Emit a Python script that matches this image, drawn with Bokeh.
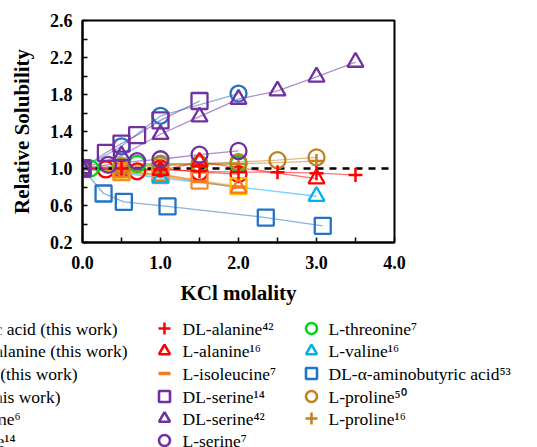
from bokeh.plotting import figure
from bokeh.models import Range1d, FixedTicker, PrintfTickFormatter
from bokeh.layouts import column
from bokeh.core.properties import value
from bokeh.embed import file_html
from bokeh.resources import INLINE

FONT = "Liberation Serif"

# ---------------- data ----------------
ref_x = [0.0, 4.0]
ref_y = [1.0, 1.0]

# first legend column (cut off at the left edge of the picture)
glu_x = [0.0, 0.5, 1.0, 2.0]
glu_y = [1.00, 1.24, 1.57, 1.81]
phe_x = [0.0, 0.3, 0.5, 0.7, 1.0, 1.5, 2.0]
phe_y = [1.00, 0.99, 0.99, 0.97, 1.00, 0.96, 0.94]
his_x = [0.0, 0.5, 1.0, 2.0]
his_y = [1.00, 1.03, 1.05, 1.06]
gly_x = [0.0, 0.5, 1.0, 2.0]
gly_y = [1.00, 0.97, 0.94, 0.81]
asn_x = [0.0, 0.5, 1.0, 2.0]
asn_y = [1.00, 0.96, 0.92, 0.79]
gln_x = [0.0, 0.5, 1.0, 1.5]
gln_y = [1.00, 0.96, 0.93, 0.87]

# second legend column
dlala42_x = [0.0, 0.5, 1.0, 1.5, 2.0, 2.5, 3.0, 3.5]
dlala42_y = [1.00, 1.00, 0.99, 0.97, 0.96, 0.96, 0.95, 0.93]
lala16_x = [0.0, 1.0, 1.5, 3.0]
lala16_y = [1.00, 0.98, 1.07, 0.89]
ile7_x = [0.0, 0.5, 1.0, 1.5, 2.0]
ile7_y = [1.00, 0.97, 0.94, 0.86, 0.80]
dlser14_x = [0.0, 0.3, 0.5, 0.7, 1.0, 1.5]
dlser14_y = [1.00, 1.17, 1.27, 1.36, 1.52, 1.73]
dlser42_x = [0.0, 0.5, 1.0, 1.5, 2.0, 2.5, 3.0, 3.5]
dlser42_y = [1.00, 1.14, 1.37, 1.56, 1.75, 1.84, 1.99, 2.15]
lser7_x = [0.0, 0.33, 0.7, 1.0, 1.5, 2.0]
lser7_y = [1.00, 1.04, 1.08, 1.10, 1.15, 1.19]

# third legend column
thr7_x = [0.0, 0.1, 0.5, 0.7, 1.0, 1.5, 2.0]
thr7_y = [1.00, 1.00, 1.02, 1.05, 1.05, 1.05, 1.05]
val16_x = [0.0, 1.0, 3.0]
val16_y = [1.00, 0.90, 0.70]
abu53_x = [0.0, 0.27, 0.53, 1.09, 2.35, 3.08]
abu53_y = [1.00, 0.73, 0.64, 0.59, 0.47, 0.38]
pro50_x = [0.0, 0.5, 1.0, 1.5, 2.0, 2.5, 3.0]
pro50_y = [1.00, 1.02, 1.04, 1.05, 1.07, 1.09, 1.12]
pro16_x = [0.0, 1.0, 2.0, 3.0]
pro16_y = [1.00, 1.03, 1.05, 1.08]

col1_labels = ["L-glutamic acid (this work)", "DL-phenylalanine (this work)",
               "L-histidine (this work)", "Glycine (this work)",
               "L-asparagine\u2076", "L-glutamine\u00b9\u2074"]
col2_labels = ["DL-alanine\u2074\u00b2", "L-alanine\u00b9\u2076", "L-isoleucine\u2077",
               "DL-serine\u00b9\u2074", "DL-serine\u2074\u00b2", "L-serine\u2077"]
col3_labels = ["L-threonine\u2077", "L-valine\u00b9\u2076",
               "DL-\u03b1-aminobutyric acid\u2075\u00b3", "L-proline\u2075\u2070",
               "L-proline\u00b9\u2076"]

x_ticks = [0, 1, 2, 3, 4]
x_minor = [0.5, 1.5, 2.5, 3.5]
y_ticks = [0.2, 0.6, 1.0, 1.4, 1.8, 2.2, 2.6]
y_minor = [0.4, 0.8, 1.2, 1.6, 2.0, 2.4]

# series: (x, y, marker, colour, legend column, legend row)
series = [
    (glu_x, glu_y, "circle", "#2373C4", 0, 0),
    (phe_x, phe_y, "circle", "#FF0000", 0, 1),
    (his_x, his_y, "circle", "#A6A6A6", 0, 2),
    (gly_x, gly_y, "square", "#FFC000", 0, 3),
    (asn_x, asn_y, "triangle", "#F47A20", 0, 4),
    (gln_x, gln_y, "square", "#F58A30", 0, 5),
    (abu53_x, abu53_y, "square", "#2373C4", 2, 2),
    (val16_x, val16_y, "triangle", "#00B0F0", 2, 1),
    (ile7_x, ile7_y, "dash", "#F47A20", 1, 2),
    (thr7_x, thr7_y, "circle", "#00D51C", 2, 0),
    (pro50_x, pro50_y, "circle", "#C47F1E", 2, 3),
    (pro16_x, pro16_y, "cross", "#C47F1E", 2, 4),
    (dlala42_x, dlala42_y, "cross", "#FF0000", 1, 0),
    (lala16_x, lala16_y, "triangle", "#FF0000", 1, 1),
    (dlser14_x, dlser14_y, "square", "#7030A0", 1, 3),
    (dlser42_x, dlser42_y, "triangle", "#7030A0", 1, 4),
    (lser7_x, lser7_y, "circle", "#7030A0", 1, 5),
]

# ---------------- main chart ----------------
p = figure(width=537, height=310, x_range=Range1d(0, 4), y_range=Range1d(0.2, 2.6),
           toolbar_location=None, output_backend="svg",
           min_border_left=82, min_border_right=143, min_border_top=20, min_border_bottom=68)
p.background_fill_color = "white"
p.border_fill_color = "white"
p.outline_line_color = "black"
p.outline_line_width = 2
p.xgrid.visible = False
p.ygrid.visible = False

for ax in (p.xaxis[0], p.yaxis[0]):
    ax.axis_line_color = "black"
    ax.axis_line_width = 2
    ax.major_tick_in = 5
    ax.major_tick_out = 0
    ax.minor_tick_in = 5
    ax.minor_tick_out = 0
    ax.major_tick_line_width = 1.5
    ax.minor_tick_line_width = 1.5
    ax.major_label_text_font = FONT
    ax.major_label_text_font_style = "bold"
    ax.major_label_text_font_size = "18px"
    ax.major_label_text_color = "black"
    ax.axis_label_text_font = FONT
    ax.axis_label_text_font_style = "bold"
    ax.axis_label_text_font_size = "21px"
    ax.axis_label_text_color = "black"
    ax.formatter = PrintfTickFormatter(format="%.1f")

p.xaxis.ticker = FixedTicker(ticks=x_ticks, minor_ticks=x_minor)
p.yaxis.ticker = FixedTicker(ticks=y_ticks, minor_ticks=y_minor)
p.xaxis.axis_label = "KCl molality"
p.yaxis.axis_label = "Relative Solubility"
p.xaxis.major_label_standoff = 13
p.yaxis.major_label_standoff = 10
p.xaxis.axis_label_standoff = 9
p.yaxis.axis_label_standoff = 13

for xs, ys, mk, col, c, r in series:
    p.line(xs, ys, line_color=col, line_width=1.3, line_alpha=0.55)

p.line(ref_x, ref_y, line_color="black", line_width=2.5, line_dash="7 6")

for xs, ys, mk, col, c, r in series:
    if mk == "dash":
        p.scatter(xs, ys, marker="dash", size=14, line_color=col, line_width=3.5)
    elif mk == "cross":
        p.scatter(xs, ys, marker="cross", size=14, line_color=col, line_width=2.5)
    else:
        p.scatter(xs, ys, marker=mk, size=16, line_color=col, line_width=2.3,
                  fill_color=None)

# ---------------- legend (separate canvas) ----------------
H2 = 137
lg = figure(width=537, height=H2, x_range=Range1d(0, 537), y_range=Range1d(H2, 0),
            toolbar_location=None, output_backend="svg", x_axis_type=None,
            y_axis_type=None, min_border=0)
lg.outline_line_color = None
lg.xgrid.visible = False
lg.ygrid.visible = False
lg.background_fill_color = "white"
lg.border_fill_color = "white"

for fig in (p, lg):
    try:
        fig.frame_align = False
    except Exception:
        pass

row_y = [18, 40.5, 63, 86, 108, 130]
col_marker_x = [-200, 164, 311]
col_labels = [col1_labels, col2_labels, col3_labels]

for xs, ys, mk, col, c, r in series:
    mx = col_marker_x[c]
    my = row_y[r]
    if mk == "dash":
        lg.scatter([mx], [my], marker="dash", size=12, line_color=col, line_width=3.5)
    elif mk == "cross":
        lg.scatter([mx], [my], marker="cross", size=12, line_color=col, line_width=2.5)
    else:
        lg.scatter([mx], [my], marker=mk, size=11, line_color=col, line_width=2.6,
                   fill_color=None)

# first column: only the right-hand ends of its texts are inside the picture
col1_end_x = [117, 127, 77, 60, 20, 15]
lg.text(x=col1_end_x, y=row_y, text=col1_labels,
        text_font=value(FONT), text_font_size="17.5px", text_color="black",
        text_baseline="middle", text_align="right")

for c, tx in ((1, 182), (2, 328)):
    labels = col_labels[c]
    lg.text(x=[tx] * len(labels), y=row_y[:len(labels)], text=labels,
            text_font=value(FONT), text_font_size="17.5px", text_color="black",
            text_baseline="middle", text_align="left")

layout = column(p, lg, spacing=0)

open("out.html", "w").write(file_html(layout, INLINE))
